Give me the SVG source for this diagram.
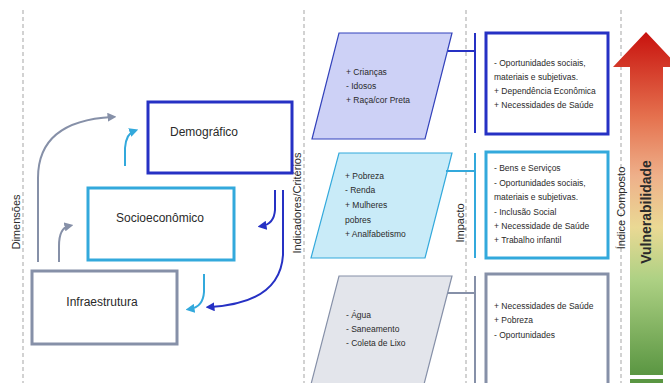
<svg xmlns="http://www.w3.org/2000/svg" width="670" height="383" viewBox="0 0 670 383">
<defs>
<style>
.t{font-family:"Liberation Sans",Arial,sans-serif;fill:#2a2a2a;}
.lab{font-size:12px;}
.sm{font-size:8.5px;}
.ax{font-size:11px;}
.dash{stroke:#bbbbbb;stroke-width:1.3;stroke-dasharray:4 3;fill:none;}
.box{fill:#fff;stroke-width:3;}
.dk{stroke:#2631c4;}
.lt{stroke:#33a9dc;}
.gr{stroke:#8690a8;}
.con{fill:none;stroke-width:2;}
</style>
<marker id="mGr" viewBox="0 0 10 10" refX="5" refY="5" markerWidth="4.5" markerHeight="4.5" orient="auto" markerUnits="strokeWidth"><path d="M0,0 L10,5 L0,10 z" fill="#8690a8"/></marker>
<marker id="mLt" viewBox="0 0 10 10" refX="5" refY="5" markerWidth="4.5" markerHeight="4.5" orient="auto" markerUnits="strokeWidth"><path d="M0,0 L10,5 L0,10 z" fill="#33a9dc"/></marker>
<marker id="mDk" viewBox="0 0 10 10" refX="5" refY="5" markerWidth="4.5" markerHeight="4.5" orient="auto" markerUnits="strokeWidth"><path d="M0,0 L10,5 L0,10 z" fill="#2631c4"/></marker>
<linearGradient id="vg" x1="0" y1="0" x2="0" y2="1">
<stop offset="0" stop-color="#c8120e"/>
<stop offset="0.25" stop-color="#e5724f"/>
<stop offset="0.42" stop-color="#eeb08a"/>
<stop offset="0.57" stop-color="#ead994"/>
<stop offset="0.72" stop-color="#aed184"/>
<stop offset="1" stop-color="#5a9642"/>
</linearGradient>
</defs>
<rect width="670" height="383" fill="#fff"/>

<!-- dashed separators -->
<line class="dash" x1="23" y1="10" x2="23" y2="383"/>
<line class="dash" x1="304" y1="10" x2="304" y2="383"/>
<line class="dash" x1="466" y1="10" x2="466" y2="383"/>
<line class="dash" x1="621" y1="10" x2="621" y2="383"/>

<!-- axis labels -->
<text class="t ax" transform="translate(20,222) rotate(-90)" text-anchor="middle">Dimensões</text>
<text class="t ax" transform="translate(301,203) rotate(-90)" text-anchor="middle">Indicadores/Critérios</text>
<text class="t ax" transform="translate(464,223) rotate(-90)" text-anchor="middle">Impacto</text>
<text class="t ax" transform="translate(625,208) rotate(-90)" text-anchor="middle">Índice Composto</text>

<!-- dimension nodes -->
<g id="demografico">
<rect class="box dk" x="148" y="102" width="144" height="71"/>
<text class="t lab" x="204" y="136" text-anchor="middle">Demográfico</text>
</g>
<g id="socioeconomico">
<rect class="box lt" x="88" y="188" width="146" height="72"/>
<text class="t lab" x="160" y="222" text-anchor="middle">Socioeconômico</text>
</g>
<g id="infraestrutura">
<rect class="box gr" x="32" y="271" width="145" height="73"/>
<text class="t lab" x="102" y="306" text-anchor="middle">Infraestrutura</text>
</g>

<!-- indicator nodes -->
<g id="ind-demografico">
<polygon points="339,33 452,33 425,139 312,139" fill="#cdd1f6" stroke="#3342bb" stroke-width="1.2"/>
<text class="t sm" x="346" y="75">+ Crianças</text>
<text class="t sm" x="346" y="89">- Idosos</text>
<text class="t sm" x="346" y="103">+ Raça/cor Preta</text>
</g>
<g id="ind-socio">
<polygon points="339,153 452,153 425,258 311,258" fill="#c9ebf8" stroke="#33a9dc" stroke-width="1.2"/>
<text class="t sm" x="345" y="179">+ Pobreza</text>
<text class="t sm" x="345" y="193">- Renda</text>
<text class="t sm" x="345" y="208">+ Mulheres</text>
<text class="t sm" x="345" y="223">pobres</text>
<text class="t sm" x="345" y="237">+ Analfabetismo</text>
</g>
<g id="ind-infra">
<polygon points="339,276 452,276 422,392 309,392" fill="#e3e5eb" stroke="#8690a8" stroke-width="1.2"/>
<text class="t sm" x="346" y="318">- Água</text>
<text class="t sm" x="346" y="332">- Saneamento</text>
<text class="t sm" x="346" y="346">- Coleta de Lixo</text>
</g>

<!-- impact nodes -->
<g id="imp-demografico">
<rect class="box dk" x="486" y="33" width="122" height="101"/>
<text class="t sm" x="494" y="66">- Oportunidades sociais,</text>
<text class="t sm" x="494" y="80">materiais e subjetivas.</text>
<text class="t sm" x="494" y="94">+ Dependência  Econômica</text>
<text class="t sm" x="494" y="108">+ Necessidades de Saúde</text>
</g>
<g id="imp-socio">
<rect class="box lt" x="486" y="152" width="122" height="106"/>
<text class="t sm" x="494" y="171">- Bens e Serviços</text>
<text class="t sm" x="494" y="186">- Oportunidades sociais,</text>
<text class="t sm" x="494" y="200">materiais e subjetivas.</text>
<text class="t sm" x="494" y="215">- Inclusão Social</text>
<text class="t sm" x="494" y="229">+ Necessidade de Saúde</text>
<text class="t sm" x="494" y="243">+ Trabalho infantil</text>
</g>
<g id="imp-infra">
<rect class="box gr" x="486" y="274" width="122" height="120"/>
<text class="t sm" x="494" y="309">+ Necessidades de Saúde</text>
<text class="t sm" x="494" y="323">+ Pobreza</text>
<text class="t sm" x="494" y="338">- Oportunidades</text>
</g>

<!-- vulnerability arrow -->
<g id="vulnerabilidade">
<polygon points="646,32 679,67 663,67 663,375 630,375 630,67 613,67" fill="url(#vg)"/>
<rect x="630" y="379" width="33" height="6" fill="#5a9642"/>
<text class="t" font-size="14" font-weight="bold" transform="translate(651,212) rotate(-90)" text-anchor="middle">Vulnerabilidade</text>
</g>

<!-- connectors -->
<g id="connectors">
<path class="con" stroke="#8690a8" d="M38,262 L38,178 Q38,121 112,117" marker-end="url(#mGr)"/>
<path class="con" stroke="#8690a8" d="M59,262 L59,246 Q59,228 69,226" marker-end="url(#mGr)"/>
<path class="con" stroke="#33a9dc" d="M125,166 L125,148 Q126,134 134,131" marker-end="url(#mLt)"/>
<path class="con" stroke="#2631c4" d="M275,190 L275,210 Q274,224 262,226" marker-end="url(#mDk)"/>
<path class="con" stroke="#2631c4" d="M283,190 L283,255 Q280,303 210,307" marker-end="url(#mDk)"/>
<path class="con" stroke="#33a9dc" d="M204,274 L204,292 Q203,307 190,309" marker-end="url(#mLt)"/>
<path class="con" stroke="#2631c4" d="M448,51 L475,51 M475,33 L475,133"/>
<path class="con" stroke="#33a9dc" d="M446,171 L475,171 M475,153 L475,258"/>
<path class="con" stroke="#8690a8" d="M448,293 L475,293 M475,276 L475,383"/>
</g>
</svg>
